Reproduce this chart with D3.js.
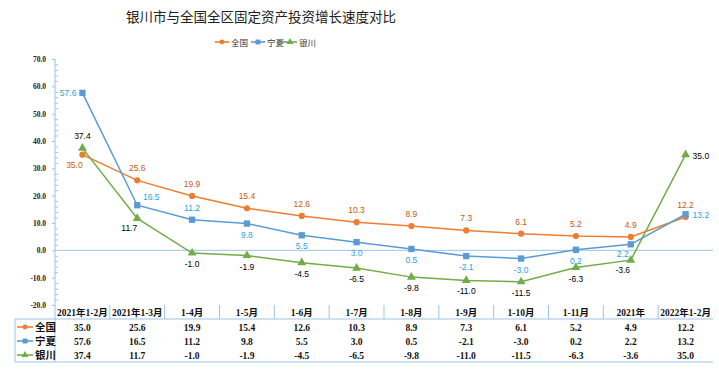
<!DOCTYPE html>
<html><head><meta charset="utf-8">
<script src="https://cdn.jsdelivr.net/npm/d3@7"></script>
<style>
html,body{margin:0;padding:0;background:#fff;}
svg{display:block;}
</style></head>
<body>
<svg id="chart" width="719" height="371"></svg>
<script>
// ---- data ----
const title = "银川市与全国全区固定资产投资增长速度对比";
const categories = ["2021年1-2月","2021年1-3月","1-4月","1-5月","1-6月","1-7月","1-8月","1-9月","1-10月","1-11月","2021年","2022年1-2月"];
const seriesNames = ["全国","宁夏","银川"];
const quanguo = [35.0,25.6,19.9,15.4,12.6,10.3,8.9,7.3,6.1,5.2,4.9,12.2];
const ningxia = [57.6,16.5,11.2,9.8,5.5,3.0,0.5,-2.1,-3.0,0.2,2.2,13.2];
const yinchuan = [37.4,11.7,-1.0,-1.9,-4.5,-6.5,-9.8,-11.0,-11.5,-6.3,-3.6,35.0];
const yTicks = [-20,-10,0,10,20,30,40,50,60,70];

// ---- styles / label placement (not data) ----
const colors = ["#ed7d31","#5b9bd5","#70ad47"];
const labelColors = ["#c55a11","#1fa3dc","#000000"];
const symbols = [d3.symbolCircle, d3.symbolSquare, d3.symbolTriangle];
const symSizes = [30, 40, 34];
const place = [
  ["bl","a","a","a","a","a","a","a","a","a","a","a"],
  ["l","ra","a","b","b","b","b","b","b","b","bl","r"],
  ["a","bl","b","b","b","b","b","b","b","b","bl","r"]
];

const fmt = d3.formatLocale({decimal:".", thousands:",", grouping:[3], currency:["",""], minus:"-"}).format(".1f");

const svg = d3.select("#chart");
const X0 = 55, X1 = 713, YT = 59, YB = 305;
const x = d3.scaleBand().domain(categories).range([X0, X1]);
const y = d3.scaleLinear().domain([-20, 70]).range([YB, YT]);
const cx = c => x(c) + x.bandwidth()/2;
const axisColor = "#9dc3e6";

// title
svg.append("text").attr("x", 261).attr("y", 22).attr("text-anchor","middle")
  .attr("font-family","'Noto Sans CJK SC'").attr("font-size", 13.5).attr("fill","#222")
  .text(title);

// legend
const legend = svg.append("g").attr("transform","translate(0,42)");
const legX = [215, 251, 283];
seriesNames.forEach((n,i)=>{
  const g = legend.append("g").attr("transform",`translate(${legX[i]},0)`);
  g.append("line").attr("x1",0).attr("x2",14).attr("y1",0).attr("y2",0).attr("stroke",colors[i]).attr("stroke-width",1.6);
  g.append("path").attr("d", d3.symbol().type(symbols[i]).size(symSizes[i]*0.6)()).attr("transform","translate(7,0)").attr("fill",colors[i]);
  g.append("text").attr("x",16).attr("y",3.5).attr("font-family","'Noto Sans CJK SC'").attr("font-size",8.5).attr("fill","#333").text(n);
});

// y axis
const yAxis = svg.append("g").attr("transform",`translate(${X0},0)`)
  .call(d3.axisLeft(y).tickValues(yTicks).tickFormat(fmt).tickSize(3).tickPadding(6));
yAxis.select(".domain").remove();
yAxis.selectAll(".tick line").attr("stroke",axisColor);
yAxis.selectAll("text").attr("font-family","'Liberation Serif'").attr("font-weight","bold").attr("font-size",7.5).attr("fill","#222");
const minor = d3.range(-20, 70.1, 2).filter(v => v % 10 !== 0);
svg.append("g").attr("transform",`translate(${X0},0)`)
  .call(d3.axisRight(y).tickValues(minor).tickFormat("").tickSize(3))
  .call(g=>{g.select(".domain").remove(); g.selectAll("line").attr("stroke",axisColor);});
svg.append("line").attr("x1",X0).attr("x2",X0).attr("y1",YT).attr("y2",362).attr("stroke",axisColor);

// zero line
svg.append("line").attr("x1",X0).attr("x2",X1).attr("y1",y(0)).attr("y2",y(0)).attr("stroke",axisColor).attr("stroke-width",1);

// series
const allSeries = [quanguo, ningxia, yinchuan];
const line = d3.line().x((d,i)=>cx(categories[i])).y(d=>y(d));
allSeries.forEach((vals, s)=>{
  svg.append("path").datum(vals).attr("d", line).attr("fill","none").attr("stroke",colors[s]).attr("stroke-width",1.5);
  svg.append("g").selectAll("path").data(vals).join("path")
    .attr("d", d3.symbol().type(symbols[s]).size(symSizes[s])())
    .attr("transform",(d,i)=>`translate(${cx(categories[i])},${y(d)})`)
    .attr("fill",colors[s]);
});
// labels
allSeries.forEach((vals, s)=>{
  svg.append("g").selectAll("text").data(vals).join("text")
    .each(function(d,i){
      const p = place[s][i];
      let px = cx(categories[i]), py = y(d), anchor = "middle";
      if (p==="a") py -= 9;
      else if (p==="b") py += 14;
      else if (p==="l") { px -= 6; anchor="end"; py += 3; }
      else if (p==="r") { px += 7; anchor="start"; py += 4; }
      else if (p==="bl") { px -= 8; py += 13; }
      else if (p==="ra") { px += 14; py -= 5; }
      d3.select(this).attr("x",px).attr("y",py).attr("text-anchor",anchor);
    })
    .attr("font-family","'Liberation Sans'").attr("font-size",8.5).attr("fill",labelColors[s])
    .text(d=>fmt(d));
});

// data table
const TB = 362, TH = 319, TT = 305;
const tl = "#9dc3e6";
svg.append("line").attr("x1",15).attr("x2",X1).attr("y1",TH).attr("y2",TH).attr("stroke",tl);
svg.append("line").attr("x1",15).attr("x2",X1).attr("y1",TB).attr("y2",TB).attr("stroke",tl);
svg.append("line").attr("x1",15).attr("x2",15).attr("y1",TH).attr("y2",TB).attr("stroke",tl);
svg.append("g").selectAll("line").data(categories.slice(1)).join("line")
  .attr("x1",d=>x(d)).attr("x2",d=>x(d)).attr("y1",TT).attr("y2",TH).attr("stroke",tl);
svg.append("g").selectAll("text").data(categories).join("text")
  .attr("x",d=>cx(d)).attr("y",316).attr("text-anchor","middle")
  .attr("font-family","'Liberation Serif','Noto Sans CJK SC'").attr("font-weight","bold").attr("font-size",9.5).attr("fill","#111")
  .text(d=>d);
const rowY = [327, 341, 355];
allSeries.forEach((vals,s)=>{
  const g = svg.append("g");
  g.append("line").attr("x1",17).attr("x2",33).attr("y1",rowY[s]).attr("y2",rowY[s]).attr("stroke",colors[s]).attr("stroke-width",1.6);
  g.append("path").attr("d", d3.symbol().type(symbols[s]).size(symSizes[s]*0.6)()).attr("transform",`translate(25,${rowY[s]})`).attr("fill",colors[s]);
  g.append("text").attr("x",35).attr("y",rowY[s]+4).attr("font-family","'Noto Sans CJK SC'").attr("font-weight","bold").attr("font-size",10.5).attr("fill","#111").text(seriesNames[s]);
  g.selectAll("text.v").data(vals).join("text").attr("class","v")
    .attr("x",(d,i)=>cx(categories[i])).attr("y",rowY[s]+3.5).attr("text-anchor","middle")
    .attr("font-family","'Liberation Serif'").attr("font-weight","bold").attr("font-size",9.5).attr("fill","#111")
    .text(d=>fmt(d));
});
</script>
</body></html>
